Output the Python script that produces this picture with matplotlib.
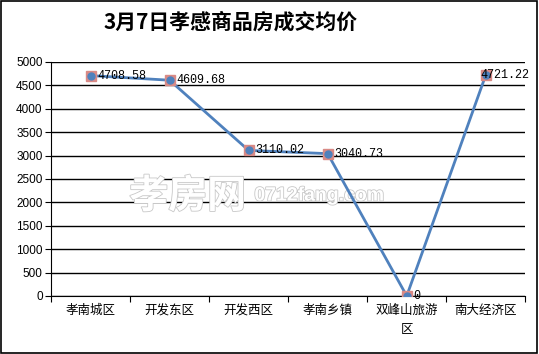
import matplotlib
matplotlib.use('Agg')
import matplotlib.pyplot as plt
import matplotlib.patheffects as pe
import numpy as np

plt.rcParams['font.family'] = ['Noto Sans CJK SC', 'DejaVu Sans']

# 数据
categories = ['孝南城区', '开发东区', '开发西区', '孝南乡镇', '双峰山旅游\n区', '南大经济区']
prices = [4708.58, 4609.68, 3110.02, 3040.73, 0, 4721.22]
labels = ['4708.58', '4609.68', '3110.02', '3040.73', '0', '4721.22']
yticks = [0, 500, 1000, 1500, 2000, 2500, 3000, 3500, 4000, 4500, 5000]

fig = plt.figure(figsize=(5.39, 3.54), dpi=100)
# 外框
fig.patches.append(plt.Rectangle((0.002, 0.003), 0.995, 0.994, transform=fig.transFigure,
                                 fill=False, edgecolor='black', linewidth=1.2))

ax = fig.add_axes([0.0946, 0.164, 0.88, 0.661])
x = np.arange(len(categories)) + 0.5

# 水印 (白底灰边)
wm = [pe.withStroke(linewidth=1.2, foreground='#c8c8c8')]
ax.text(0.24, 0.446, '孝房网', transform=fig.transFigure, fontsize=28, color='white',
        fontweight='bold', ha='left', va='center', path_effects=wm, zorder=2)
ax.text(0.472, 0.446, '0712fang.com', transform=fig.transFigure, fontsize=14, color='white',
        fontweight='bold', family='Liberation Sans', ha='left', va='center', path_effects=wm, zorder=2)

ax.plot(x, prices, color='#4f81bd', linewidth=2, zorder=3)
ax.plot(x, prices, linestyle='none', marker='s', markersize=7.5, markerfacecolor='#d98a86',
        markeredgecolor='#d98a86', zorder=4)
ax.plot(x, prices, linestyle='none', marker='o', markersize=5, markerfacecolor='#4f81bd',
        markeredgecolor='#4f81bd', zorder=5)

# 数据标签, 最后一个靠右边放不下, 往左挪
for i, (xi, yi, lab) in enumerate(zip(x, prices, labels)):
    dx = 0.085 if i < len(labels) - 1 else -0.07
    ax.text(xi + dx, yi, lab, fontsize=8.5, family='Liberation Mono', va='center', ha='left', zorder=6)

ax.set_xlim(0, len(categories))
ax.set_ylim(0, 5000)
ax.set_yticks(yticks)
ax.set_yticklabels([str(t) for t in yticks], fontsize=8.5, family='Liberation Sans')
ax.yaxis.grid(True, color='black', linewidth=1)
ax.set_axisbelow(True)

# x 轴刻度在分类边界, 标签在分类中心
ax.set_xticks(np.arange(len(categories) + 1))
ax.set_xticklabels([])
ax.set_xticks(x, minor=True)
ax.set_xticklabels(categories, minor=True, fontsize=9, linespacing=1.6)
ax.tick_params(axis='x', which='minor', length=0, pad=6)
ax.tick_params(axis='x', which='major', length=4, direction='out')
ax.tick_params(axis='y', length=4, direction='out', pad=2)

for s in ['top', 'right']:
    ax.spines[s].set_visible(False)

fig.text(0.427, 0.938, '3月7日孝感商品房成交均价', fontsize=15, fontweight='bold', ha='center', va='center')

fig.savefig('out.png', dpi=100)
